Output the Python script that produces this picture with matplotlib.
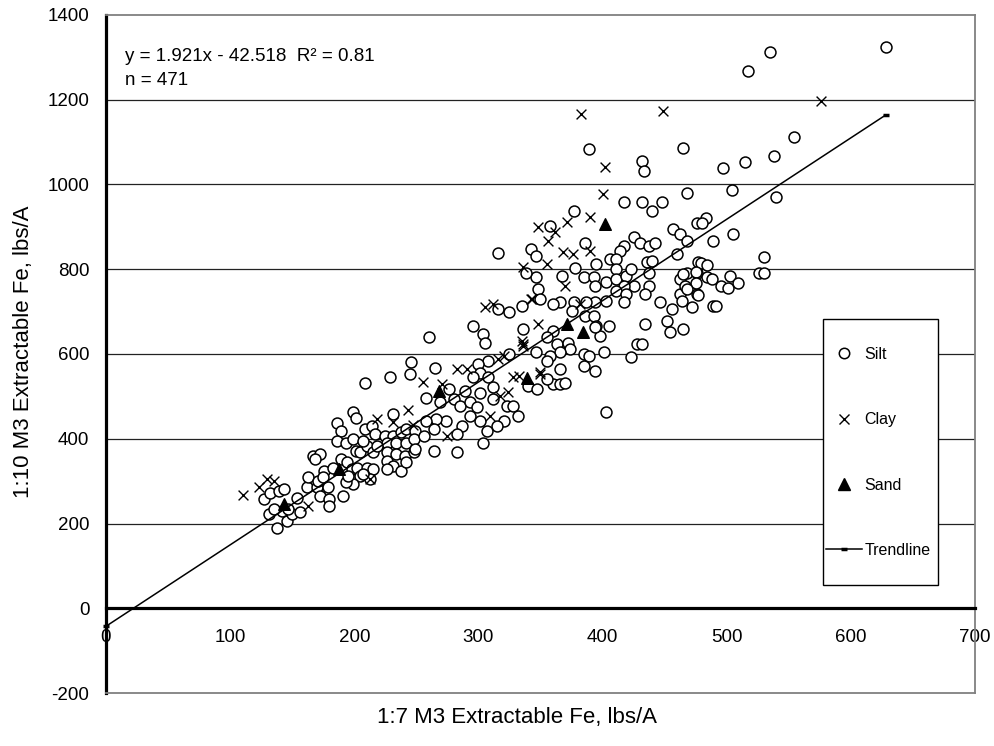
import matplotlib
matplotlib.use("Agg")
import matplotlib.pyplot as plt
from matplotlib.lines import Line2D
from matplotlib.patches import Rectangle

plt.rcParams['font.family'] = ['Liberation Sans', 'DejaVu Sans']
plt.rcParams['axes.unicode_minus'] = False

# ---------------- data ----------------
silt_points = [
    (127,257),(132,273),(139,277),(143,281),(131,222),(138,190),(146,206),(150,222),(142,230),(156,226),
    (135,234),(147,234),(154,261),(162,285),(163,309),(170,285),(172,265),(180,257),(180,242),(191,265),
    (179,285),(171,301),(176,324),(175,309),(183,332),(167,360),(172,364),(168,352),(189,352),(194,344),
    (198,328),(202,332),(205,312),(199,293),(193,297),(195,312),(210,332),(215,328),(213,305),(207,316),
    (186,438),(189,419),(199,462),(201,450),(186,395),(193,391),(199,399),(209,423),(214,430),(217,411),
    (201,371),(205,368),(210,383),(215,368),(207,395),(225,407),(231,407),(238,415),(242,423),(249,419),
    (231,458),(226,391),(234,391),(242,391),(248,399),(226,368),(234,364),(241,360),(248,368),(226,348),
    (231,336),(238,324),(226,328),(242,344),(249,375),(218,383),
    (260,639),(246,580),(245,552),(229,545),(265,568),(296,667),(304,647),(305,627),(316,706),(325,698),
    (308,584),(300,576),(301,556),(308,545),(296,545),(312,521),(301,509),(289,513),(276,517),(258,497),
    (269,486),(280,493),(285,478),(293,486),(299,474),(312,493),(323,478),(328,478),(332,454),(321,442),
    (315,431),(307,419),(301,442),(293,454),(287,431),(283,411),(274,442),(266,446),(258,442),(264,423),
    (256,407),(264,372),(283,369),(304,391),(340,525),(347,517),(360,529),(366,529),(355,541),(325,600),
    (417,958),(432,958),(440,938),(448,959),(468,980),(377,938),(358,903),(342,848),(346,832),(386,863),
    (425,875),(430,863),(437,855),(442,863),(457,895),(462,883),(468,867),(460,836),(417,855),(414,844),
    (406,824),(411,824),(395,812),(378,804),(385,781),(393,781),(367,785),(346,781),(348,753),(394,761),
    (403,769),(411,800),(411,777),(419,785),(423,800),(425,761),(417,761),(411,749),(419,741),(436,816),
    (440,820),(437,792),(437,761),(434,741),(403,726),(417,722),(394,722),(387,722),(377,722),(366,722),
    (360,718),(375,702),(386,690),(393,690),(395,667),(405,667),(398,643),(394,663),(360,655),(355,639),
    (363,623),(372,627),(385,600),(374,611),(366,604),(358,596),(346,604),(355,584),(366,564),(385,572),
    (394,560),(401,604),(423,592),(428,623),(432,623),(434,670),(452,678),(454,651),(465,659),(446,722),
    (456,706),(462,741),(462,777),(468,792),(466,761),(472,710),(476,741),(476,792),(477,816),(476,910),
    (336,659),(338,792),(350,729),(335,714),
    (465,1085),(497,1040),(515,1054),(538,1068),(554,1112),(504,988),(540,970),(483,920),(480,909),
    (489,867),(505,883),(530,828),(479,815),(484,810),(475,794),(465,789),(484,781),(488,778),(503,783),
    (509,767),(526,791),(530,791),(475,767),(495,761),(501,755),(468,753),(464,726),(477,740),(489,714),
    (491,714),(432,1056),(433,1031),
    (517,1267),(535,1313),(628,1325),
    (389,1084),(403,464),(370,531),(389,596),(209,531),(316,838),
]
silt_x = [p[0] for p in silt_points]
silt_y = [p[1] for p in silt_points]

clay_points = [
    (110,267),(123,285),(130,305),(135,300),(163,241),(213,305),(218,446),(231,440),(243,468),(247,432),
    (275,406),(309,453),(255,534),(271,529),(283,564),(291,564),(305,711),(312,718),(343,730),(348,670),
    (335,630),(336,619),(316,588),(321,595),(328,545),(333,548),(350,552),(317,500),(324,510),(400,977),
    (390,923),(348,899),(362,888),(371,911),(356,866),(368,840),(376,836),(390,843),(355,812),(336,805),
    (370,760),(342,730),(382,718),(336,623),(350,557),(383,1166),(402,1041),(449,1173),(576,1197),
]
clay_x = [p[0] for p in clay_points]
clay_y = [p[1] for p in clay_points]

sand_x = [143, 188, 268, 339, 371, 384, 402]
sand_y = [245, 328, 512, 543, 670, 651, 906]

# trendline as reported on the chart
slope = 1.921
intercept = -42.518
trend_x = [0, 628]
trend_y = [slope * x + intercept for x in trend_x]

equation_text = "y = 1.921x - 42.518  R\u00b2 = 0.81"
n_text = "n = 471"
x_ticks = [0, 100, 200, 300, 400, 500, 600, 700]
y_ticks = [-200, 0, 200, 400, 600, 800, 1000, 1200, 1400]
x_label = "1:7 M3 Extractable Fe, lbs/A"
y_label = "1:10 M3 Extractable Fe, lbs/A"

# ---------------- figure ----------------
W, H = 995, 746
fig = plt.figure(figsize=(W / 100, H / 100), dpi=100)
ax = fig.add_axes([106 / W, (H - 693) / H, (975 - 106) / W, (693 - 15) / H])

ax.set_xlim(0, 700)
ax.set_ylim(-200, 1400)
ax.set_xticks(x_ticks)
ax.set_yticks(y_ticks)
ax.tick_params(axis='both', length=0, labelsize=13.5, colors='black')
ax.tick_params(axis='y', pad=12)
ax.tick_params(axis='x', pad=15)

gray = '#808080'
ax.spines['left'].set_color('black')
ax.spines['left'].set_linewidth(2.3)
ax.spines['bottom'].set_position(('data', 0))
ax.spines['bottom'].set_color('black')
ax.spines['bottom'].set_linewidth(2.3)
ax.spines['bottom'].set_zorder(4)
for s in ('top', 'right'):
    ax.spines[s].set_color(gray)
    ax.spines[s].set_linewidth(1.3)
ax.axhline(-200, color=gray, lw=1.3, clip_on=False, zorder=3)

ax.grid(axis='y', color='#222222', lw=0.9, zorder=0)
ax.set_axisbelow(True)
for gl, t in zip(ax.get_ygridlines(), y_ticks):
    if t in (-200, 0, 1400):
        gl.set_visible(False)

# data
ax.scatter(silt_x, silt_y, s=62, facecolors='white', edgecolors='black', linewidths=1.1,
           marker='o', zorder=3)
ax.scatter(clay_x, clay_y, s=50, color='black', linewidths=1.0, marker='x', zorder=3)
ax.scatter(sand_x, sand_y, s=70, color='black', marker='^', zorder=5)
ax.plot(trend_x, trend_y, color='black', lw=1.1, marker='_', ms=5, mew=2.5, zorder=6,
        clip_on=False)

# equation text
fig.text(125 / W, 1 - 61 / H, equation_text, fontsize=13.5, va='baseline', ha='left')
fig.text(125 / W, 1 - 85 / H, n_text, fontsize=13.5, va='baseline', ha='left')

# axis titles
fig.text(517 / W, 1 - 718 / H, x_label, fontsize=16, ha='center', va='center')
fig.text(24 / W, 1 - 352 / H, y_label, fontsize=16, ha='center', va='center', rotation=90)

# legend box
fig.patches.append(Rectangle((823 / W, 1 - 585 / H), (938 - 823) / W, (585 - 319) / H,
                             transform=fig.transFigure, facecolor='white', edgecolor='black',
                             lw=1.0, zorder=7))
handles = [
    Line2D([], [], ls='none', marker='o', ms=7.5, mfc='white', mec='black', mew=1.1),
    Line2D([], [], ls='none', marker='x', ms=7, color='black', mew=1.0),
    Line2D([], [], ls='none', marker='^', ms=8, color='black'),
    Line2D([], [], color='black', lw=1.1, marker='_', ms=5, mew=2.5),
]
labels = ['Silt', 'Clay', 'Sand', 'Trendline']
leg = fig.legend(handles, labels, loc='upper left', bbox_to_anchor=(826 / W, 1 - 347 / H),
                 frameon=False, fontsize=11.5, borderpad=0, borderaxespad=0,
                 labelspacing=3.15, handlelength=2.25, handletextpad=0.15)
leg.set_zorder(8)

fig.savefig('out.png', dpi=100)
